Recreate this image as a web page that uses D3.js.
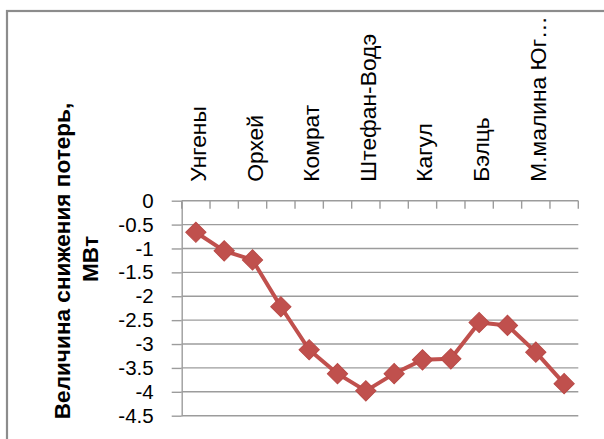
<!DOCTYPE html>
<html>
<head>
<meta charset="utf-8">
<script src="https://cdn.jsdelivr.net/npm/d3@7"></script>
<style>
  html, body { margin: 0; padding: 0; background: #fff; }
  svg { display: block; }
  text { font-family: "Liberation Sans", Arial, sans-serif; fill: #000; }
</style>
</head>
<body>
<svg id="chart" width="604" height="439"></svg>
<script>
// Substations (every second name is printed on the axis)
const tickLabels = ["Унгены", "Орхей", "Комрат", "Штефан-Водэ", "Кагул", "Бэлць", "М.малина Юг…"];
const categories = d3.range(14);
// Loss reduction, MW
const values = [-0.66, -1.05, -1.24, -2.22, -3.12, -3.62, -3.98, -3.62, -3.33, -3.31, -2.55, -2.61, -3.17, -3.83];
const yTicks = [0, -0.5, -1, -1.5, -2, -2.5, -3, -3.5, -4, -4.5];
const titleLines = ["Величина снижения потерь,", "МВт"];

const svg = d3.select("#chart");
const plot = { left: 181.7, right: 578.3, top: 200.7, bottom: 415.7 };
const gridColor = "#9c9c9c";
const red = "#c0504d";

// outer frame
svg.append("rect")
  .attr("x", 7).attr("y", 11).attr("width", 640).attr("height", 460)
  .attr("fill", "none").attr("stroke", "#8c8c8c").attr("stroke-width", 2.2);

const x = d3.scaleBand().domain(categories).range([plot.left, plot.right]);
const y = d3.scaleLinear().domain([-4.5, 0]).range([plot.bottom, plot.top]);

// horizontal gridlines
svg.append("g")
  .selectAll("line")
  .data(yTicks.filter(d => d !== 0))
  .join("line")
  .attr("x1", plot.left).attr("x2", plot.right)
  .attr("y1", d => y(d)).attr("y2", d => y(d))
  .attr("stroke", gridColor).attr("stroke-width", 1.4);

// value axis
const yAxis = svg.append("g")
  .attr("transform", `translate(${plot.left},0)`)
  .call(d3.axisLeft(y).tickValues(yTicks).tickFormat(d => String(d))
        .tickSize(10).tickSizeOuter(0).tickPadding(18));
yAxis.select(".domain").attr("stroke", gridColor).attr("stroke-width", 1.4);
yAxis.selectAll(".tick line").attr("stroke", gridColor).attr("stroke-width", 1.4);
yAxis.selectAll(".tick text")
  .attr("font-size", 20.5).attr("font-family", "Liberation Sans, Arial, sans-serif")
  .attr("fill", "#111");

// category axis along the zero line, ticks hanging into the plot
const boundaries = d3.range(categories.length + 1).map(i => plot.left + i * x.step());
svg.append("line")
  .attr("x1", plot.left).attr("x2", plot.right).attr("y1", y(0)).attr("y2", y(0))
  .attr("stroke", gridColor).attr("stroke-width", 1.4);
svg.append("g")
  .selectAll("line")
  .data(boundaries)
  .join("line")
  .attr("x1", d => d).attr("x2", d => d)
  .attr("y1", y(0)).attr("y2", y(0) + 8)
  .attr("stroke", gridColor).attr("stroke-width", 1.4);

// category labels above the plot
svg.append("g")
  .selectAll("text")
  .data(categories.filter(i => i % 2 === 0))
  .join("text")
  .attr("transform", i => `translate(${x(i) + x.bandwidth() / 2 + 2},${y(0) - 19}) rotate(-90)`)
  .attr("text-anchor", "start")
  .attr("dy", "0.35em")
  .attr("font-size", 22.8)
  .attr("fill", "#111")
  .text(i => tickLabels[i / 2]);

// series line
const cx = i => x(i) + x.bandwidth() / 2;
svg.append("path")
  .datum(values)
  .attr("fill", "none")
  .attr("stroke", red)
  .attr("stroke-width", 4)
  .attr("stroke-linejoin", "round")
  .attr("d", d3.line().x((d, i) => cx(i)).y(d => y(d)));

// diamond markers
svg.append("g")
  .selectAll("path")
  .data(values)
  .join("path")
  .attr("transform", (d, i) => `translate(${cx(i)},${y(d)}) rotate(45)`)
  .attr("d", d3.symbol(d3.symbolSquare, 205))
  .attr("fill", red)
  .attr("stroke", "#b94a47")
  .attr("stroke-width", 1);

// axis title
svg.append("g")
  .selectAll("text")
  .data(titleLines)
  .join("text")
  .attr("transform", (d, i) => `translate(${62 + i * 28},${i === 0 ? 261 : 259}) rotate(-90)`)
  .attr("text-anchor", "middle")
  .attr("dy", "0.35em")
  .attr("font-size", 22.6)
  .attr("font-weight", "bold")
  .attr("fill", "#111")
  .text(d => d);
</script>
</body>
</html>
